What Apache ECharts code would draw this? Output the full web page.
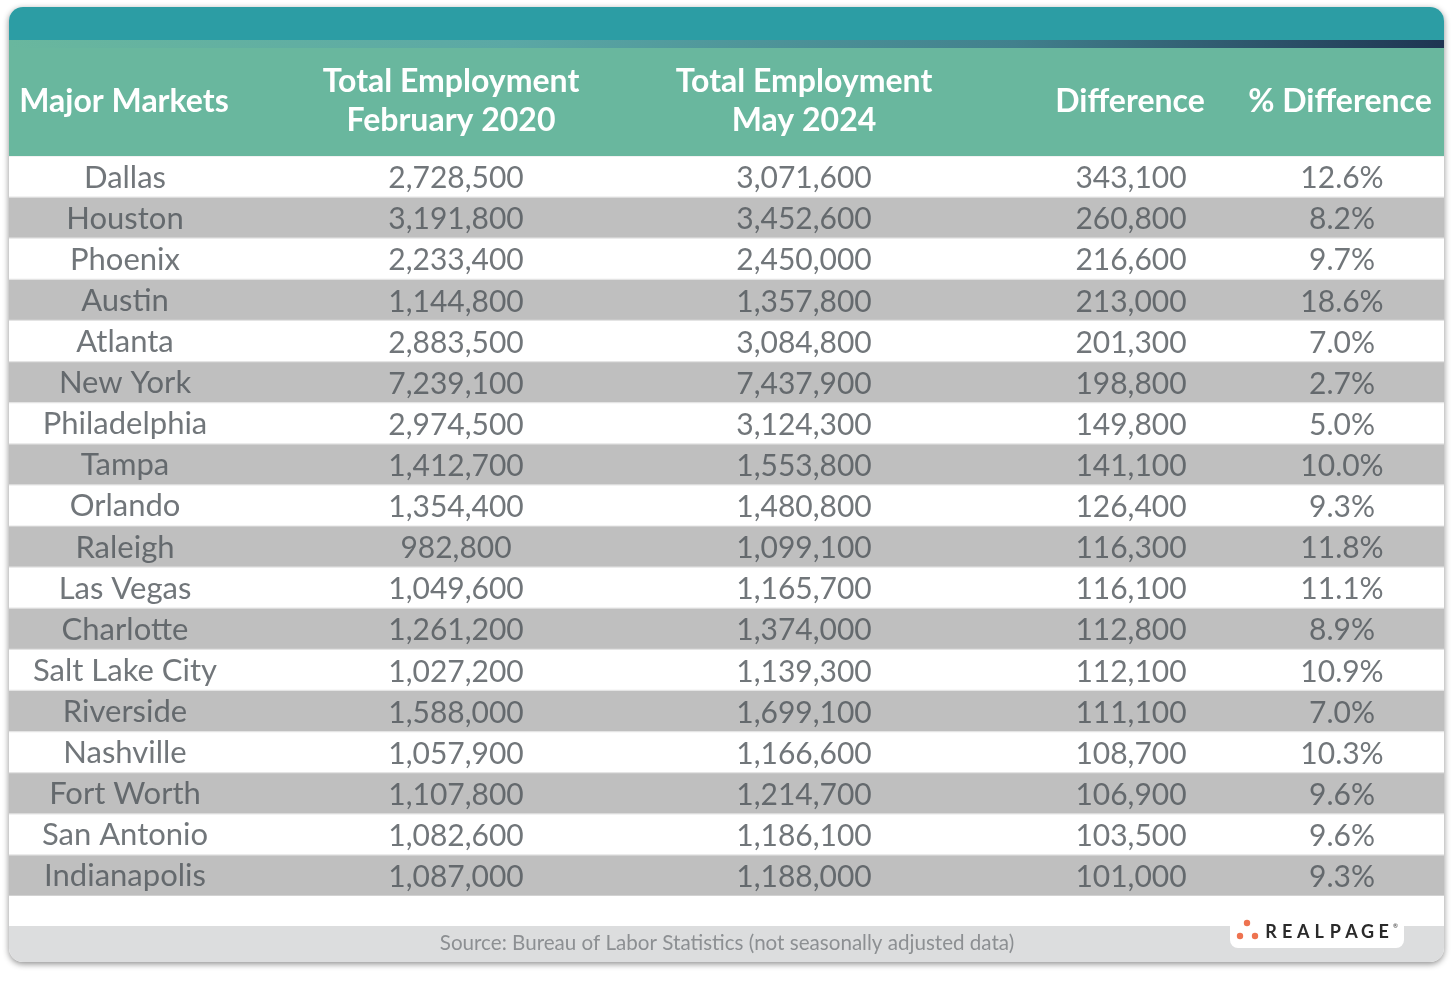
<!DOCTYPE html>
<html>
<head>
<meta charset="utf-8">
<script src="https://cdn.jsdelivr.net/npm/echarts@6/dist/echarts.min.js"></script>
<style>
html,body{margin:0;padding:0;background:#fff;}
#chart{width:1455px;height:982px;}
</style>
</head>
<body>
<div id="chart"></div>
<script>
const markets = ['Dallas','Houston','Phoenix','Austin','Atlanta','New York','Philadelphia','Tampa','Orlando','Raleigh','Las Vegas','Charlotte','Salt Lake City','Riverside','Nashville','Fort Worth','San Antonio','Indianapolis'];
const feb2020 = [2728500,3191800,2233400,1144800,2883500,7239100,2974500,1412700,1354400,982800,1049600,1261200,1027200,1588000,1057900,1107800,1082600,1087000];
const may2024 = [3071600,3452600,2450000,1357800,3084800,7437900,3124300,1553800,1480800,1099100,1165700,1374000,1139300,1699100,1166600,1214700,1186100,1188000];
const difference = [343100,260800,216600,213000,201300,198800,149800,141100,126400,116300,116100,112800,112100,111100,108700,106900,103500,101000];
const pctDifference = [12.6,8.2,9.7,18.6,7.0,2.7,5.0,10.0,9.3,11.8,11.1,8.9,10.9,7.0,10.3,9.6,9.6,9.3];
const headers = [['Major Markets'],['Total Employment','February 2020'],['Total Employment','May 2024'],['Difference'],['% Difference']];
const sourceNote = 'Source: Bureau of Labor Statistics (not seasonally adjusted data)';
const brand = 'REALPAGE';

const FONT = 'Lato, "Open Sans", sans-serif';
const TEXT = '#4E5459';
const GRID_LEFT = 9, GRID_TOP = 156, GRID_W = 1435, GRID_H = 740;
const colX = [116, 447, 795, 1122, 1333];
const headerX = [124, 451, 804, 1130, 1340];
const colFont = [31, 30, 30, 30, 30];
const colOffsetY = [1, 2, 2, 2, 2];

const fmtNum = v => v.toLocaleString('en-US');
const columns = [
  markets.map(m => m),
  feb2020.map(fmtNum),
  may2024.map(fmtNum),
  difference.map(fmtNum),
  pctDifference.map(v => v.toFixed(1) + '%')
];

const chart = echarts.init(document.getElementById('chart'), null, {renderer: 'canvas'});

const graphics = [
  {type:'rect', z:-10, shape:{x:9,y:7,width:1435,height:955,r:14},
   style:{fill:'#ffffff', shadowBlur:6, shadowColor:'rgba(0,0,0,0.45)', shadowOffsetY:2}},
  {type:'rect', z:-9, shape:{x:9,y:7,width:1435,height:41,r:[14,14,0,0]}, style:{fill:'#2C9DA4'}},
  {type:'rect', z:-8, shape:{x:9,y:40,width:1435,height:8},
   style:{fill:new echarts.graphic.LinearGradient(0,0,1,0,[
     {offset:0,color:'#69B79E'},{offset:0.35,color:'#5BA8A5'},{offset:0.7,color:'#41808D'},{offset:1,color:'#1E3452'}])}},
  {type:'rect', z:-8, shape:{x:9,y:48,width:1435,height:108}, style:{fill:'#69B79E'}},
  {type:'rect', z:-8, shape:{x:9,y:926,width:1435,height:36,r:[0,0,14,14]}, style:{fill:'#DCDDDE'}},
  {type:'text', z:5, style:{text:sourceNote, x:727, y:943, align:'center', verticalAlign:'middle',
    font:'20.6px ' + FONT, fill:'#8C8F92'}},
  {type:'rect', z:5, shape:{x:1230,y:920,width:174,height:28,r:[0,0,8,8]}, style:{fill:'#ffffff'}},
  {type:'circle', z:6, shape:{cx:1247,cy:923,r:3.2}, style:{fill:'#EE7350'}},
  {type:'circle', z:6, shape:{cx:1240,cy:936,r:3.2}, style:{fill:'#EE7350'}},
  {type:'circle', z:6, shape:{cx:1255,cy:936,r:3.2}, style:{fill:'#EE7350'}},
  {type:'text', z:6, style:{text:'®', x:1393, y:926, align:'left', verticalAlign:'middle', font:'6px ' + FONT, fill:'#2B2B2B'}}
];
brand.split('').forEach((ch, i) => {
  graphics.push({type:'text', z:6, style:{text:ch, x:1271 + i*16.1, y:932, align:'center', verticalAlign:'middle',
    font:'bold 18px ' + FONT, fill:'#2A2A2A'}});
});
headers.forEach((lines, c) => {
  const n = lines.length;
  lines.forEach((t, k) => {
    const y = n === 1 ? 102 : (k === 0 ? 82 : 121);
    graphics.push({type:'text', z:5, style:{text:t, x:headerX[c], y:y, align:'center', verticalAlign:'middle',
      font:'bold 32px ' + FONT, fill:'#ffffff'}});
  });
});

const series = [{
  type:'bar',
  data: markets.map(() => GRID_W),
  barCategoryGap:'3%',
  itemStyle:{color: p => p.dataIndex % 2 === 0 ? '#ffffff' : '#BFBFBF'},
  silent:true, z:1
}];
columns.forEach((col, c) => {
  series.push({
    type:'scatter',
    data: markets.map((m, i) => [colX[c], m]),
    symbolSize:1,
    itemStyle:{color:'rgba(0,0,0,0)'},
    z:3,
    label:{show:true, position:'inside', offset:[0,colOffsetY[c]], formatter: p => col[p.dataIndex],
      fontFamily:FONT, fontSize:colFont[c], color:TEXT}
  });
});

chart.setOption({
  animation:false,
  backgroundColor:'#ffffff',
  graphic: graphics,
  grid:{left:GRID_LEFT, top:GRID_TOP, width:GRID_W, height:GRID_H, show:true, backgroundColor:'#E4E4E4', borderWidth:0},
  xAxis:{type:'value', min:0, max:GRID_W, show:false},
  yAxis:{type:'category', data:markets, inverse:true, show:false},
  series: series
});
</script>
</body>
</html>
